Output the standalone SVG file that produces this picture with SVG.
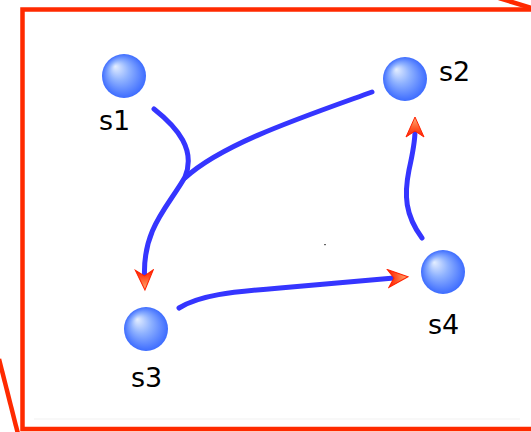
<svg xmlns="http://www.w3.org/2000/svg" width="531" height="432" viewBox="0 0 531 432">
<defs>
  <radialGradient id="ball" cx="0.5" cy="0.5" r="0.5" fx="0.3" fy="0.28">
    <stop offset="0" stop-color="#e4eeff"/>
    <stop offset="0.45" stop-color="#8fb2ff"/>
    <stop offset="1" stop-color="#3d6cff"/>
  </radialGradient>
  <linearGradient id="arrowFill" x1="0" y1="0" x2="20" y2="0" gradientUnits="userSpaceOnUse">
    <stop offset="0" stop-color="#ff1a00"/>
    <stop offset="0.45" stop-color="#ff5a2a"/>
    <stop offset="1" stop-color="#ffb37a"/>
  </linearGradient>
  <marker id="arrow" markerUnits="userSpaceOnUse" viewBox="-1 -10 23 20" refX="6" refY="0" markerWidth="23" markerHeight="20" orient="auto">
    <path d="M20,0 L0,-9 L6,0 L0,9 Z" fill="url(#arrowFill)" stroke="#ff2200" stroke-width="1" stroke-linejoin="miter"/>
  </marker>
  <style>
    .edge { fill: none; stroke: #3535ff; stroke-width: 5; stroke-linecap: round; }
    .ball { fill: url(#ball); }
    .label { font-family: "DejaVu Sans", Verdana, sans-serif; font-size: 27px; fill: #000; }
    .frame { fill: none; stroke: #ff2a00; stroke-width: 4.5; }
  </style>
</defs>
<rect x="0" y="0" width="531" height="432" fill="#fff"/>
<g id="frame">
  <path class="frame" d="M533,9.5 L22.5,9.5 L22.5,429 L533,429"/>
  <line class="frame" x1="499" y1="-2" x2="533" y2="8.5" stroke-width="4"/>
  <line class="frame" x1="-1" y1="359" x2="18" y2="434" stroke-width="4"/>
  <line x1="34" y1="419" x2="520" y2="419" stroke="#f1f1f1" stroke-width="1"/>
  <rect x="324" y="244" width="2" height="1.2" fill="#666"/>
</g>
<g id="connectors">
  <path class="edge" d="M154,109 C178,128 196,150 185,177 C168,207 143,228 144.5,276" marker-end="url(#arrow)"/>
  <path class="edge" d="M372,92 C300,118 222,144 185,178"/>
  <path class="edge" d="M179,308 C200,295 230,292 280,288 L394,278" marker-end="url(#arrow)"/>
  <path class="edge" d="M422,238 C405,215 404,195 409,170 C413,152 415,142 415,131" marker-end="url(#arrow)"/>
</g>
<g id="s1">
  <circle class="ball" cx="124" cy="76" r="22"/>
  <text class="label" x="99" y="130">s1</text>
</g>
<g id="s2">
  <circle class="ball" cx="405" cy="79" r="22"/>
  <text class="label" x="439" y="81">s2</text>
</g>
<g id="s3">
  <circle class="ball" cx="146" cy="329" r="22"/>
  <text class="label" x="131" y="387">s3</text>
</g>
<g id="s4">
  <circle class="ball" cx="443" cy="272" r="22"/>
  <text class="label" x="428" y="334">s4</text>
</g>
</svg>
